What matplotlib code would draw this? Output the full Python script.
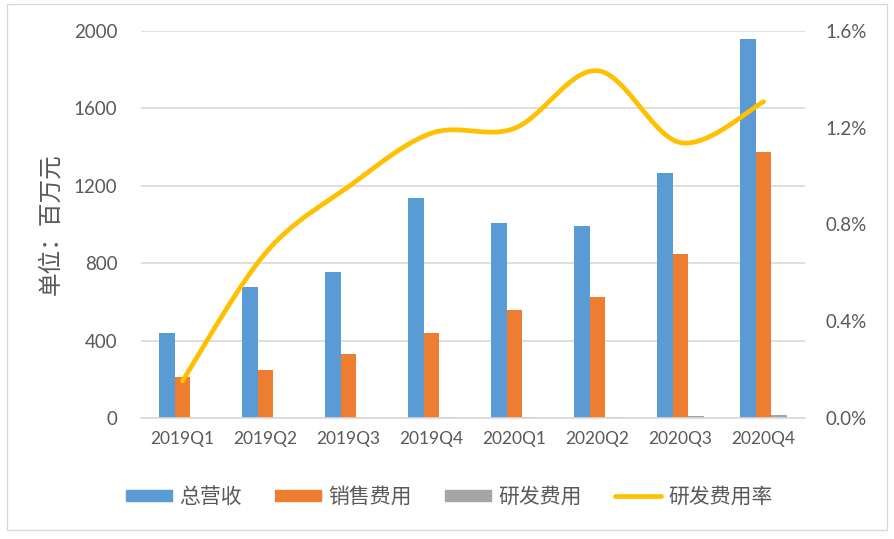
import numpy as np
import matplotlib
matplotlib.use("Agg")
import matplotlib.pyplot as plt
from matplotlib.patches import Rectangle
from matplotlib.lines import Line2D
from matplotlib.ticker import FuncFormatter

categories = ["2019Q1", "2019Q2", "2019Q3", "2019Q4", "2020Q1", "2020Q2", "2020Q3", "2020Q4"]
revenue = [440, 677, 755, 1137, 1010, 993, 1267, 1959]
sales_exp = [212, 250, 332, 439, 557, 624, 849, 1375]
rd_exp = [0.3, 1.7, 3.2, 5.2, 6.7, 9.0, 9.7, 18]
rd_rate = [0.154, 0.682, 0.956, 1.177, 1.197, 1.435, 1.138, 1.307]  # percent

left_ticks = [0, 400, 800, 1200, 1600, 2000]
right_ticks = [0.0, 0.4, 0.8, 1.2, 1.6]

series_names = ["总营收", "销售费用", "研发费用", "研发费用率"]
colors = ["#5B9BD5", "#ED7D31", "#A5A5A5", "#FFC000"]
txt = "#595959"
grid_c = "#D9D9D9"

plt.rcParams['font.family'] = ['Noto Sans CJK SC', 'DejaVu Sans']

fig = plt.figure(figsize=(8.95, 5.39), dpi=100)
fig.patches.append(Rectangle((0.0075, 0.016), 0.984, 0.976, transform=fig.transFigure,
                             fill=False, edgecolor="#D9D9D9", linewidth=1))
ax = fig.add_axes([0.1575, 0.224, 0.742, 0.719])
x = np.arange(len(categories))
w = 0.19
ax.bar(x - w, revenue, w, color=colors[0], zorder=2)
ax.bar(x, sales_exp, w, color=colors[1], zorder=2)
ax.bar(x + w, rd_exp, w, color=colors[2], zorder=2)
ax.set_xlim(-0.5, len(categories) - 0.5)
ax.set_ylim(0, 2000)
ax.set_yticks(left_ticks)
ax.set_xticks(x)
ax.set_xticklabels(categories, family=['Lato', 'DejaVu Sans'], fontsize=12.5, color=txt)
for lab in ax.get_yticklabels():
    lab.set_family(['Lato', 'DejaVu Sans'])
ax.tick_params(axis='y', length=0, pad=17, labelsize=13.5, labelcolor=txt)
ax.tick_params(axis='x', length=0, pad=9)
ax.grid(axis='y', color=grid_c, linewidth=1.2, zorder=0)
ax.set_axisbelow(True)
for s in ['top', 'right', 'left']:
    ax.spines[s].set_visible(False)
ax.spines['bottom'].set_color(grid_c)
ax.spines['bottom'].set_linewidth(1.2)
ax.set_ylabel("单位：百万元", fontsize=17, color=txt, labelpad=8, fontweight='light')

ax2 = ax.twinx()
ax2.set_ylim(0, 1.6)
ax2.set_yticks(right_ticks)
ax2.yaxis.set_major_formatter(FuncFormatter(lambda v, p: f"{v:.1f}%"))
for lab in ax2.get_yticklabels():
    lab.set_family(['Lato', 'DejaVu Sans'])
ax2.tick_params(axis='y', length=0, pad=15, labelsize=13.5, labelcolor=txt)
for s in ['top', 'right', 'left', 'bottom']:
    ax2.spines[s].set_visible(False)

# Excel-like smoothed line (Bezier through the data points)
P = np.column_stack([x.astype(float), np.array(rd_rate, dtype=float)])
ext = np.vstack([P[0], P, P[-1]])
pts = []
t = np.linspace(0, 1, 40)
for i in range(len(P) - 1):
    p0, p1, p2, p3 = ext[i], ext[i + 1], ext[i + 2], ext[i + 3]
    c1 = p1 + (p2 - p0) / 6
    c2 = p2 - (p3 - p1) / 6
    seg = ((1 - t)[:, None] ** 3) * p1 + 3 * ((1 - t) ** 2 * t)[:, None] * c1 \
        + 3 * ((1 - t) * t ** 2)[:, None] * c2 + (t ** 3)[:, None] * p2
    pts.append(seg if i == 0 else seg[1:])
curve = np.vstack(pts)
ax2.plot(curve[:, 0], curve[:, 1], color=colors[3], linewidth=3.4,
         solid_capstyle='round', zorder=3)

handles = [Rectangle((0, 0), 1, 1, color=colors[0]),
           Rectangle((0, 0), 1, 1, color=colors[1]),
           Rectangle((0, 0), 1, 1, color=colors[2]),
           Line2D([0], [0], color=colors[3], linewidth=3.4, solid_capstyle='round')]
leg = fig.legend(handles, series_names, loc='center', bbox_to_anchor=(0.502, 0.078),
                 ncol=4, frameon=False, fontsize=15, handlelength=2.2, handleheight=0.5,
                 handletextpad=0.35, columnspacing=1.6, labelcolor=txt,
                 prop={'family': ['Noto Sans CJK SC', 'DejaVu Sans'], 'size': 15, 'weight': 'light'})

fig.savefig("out.png", dpi=100, facecolor="white")
